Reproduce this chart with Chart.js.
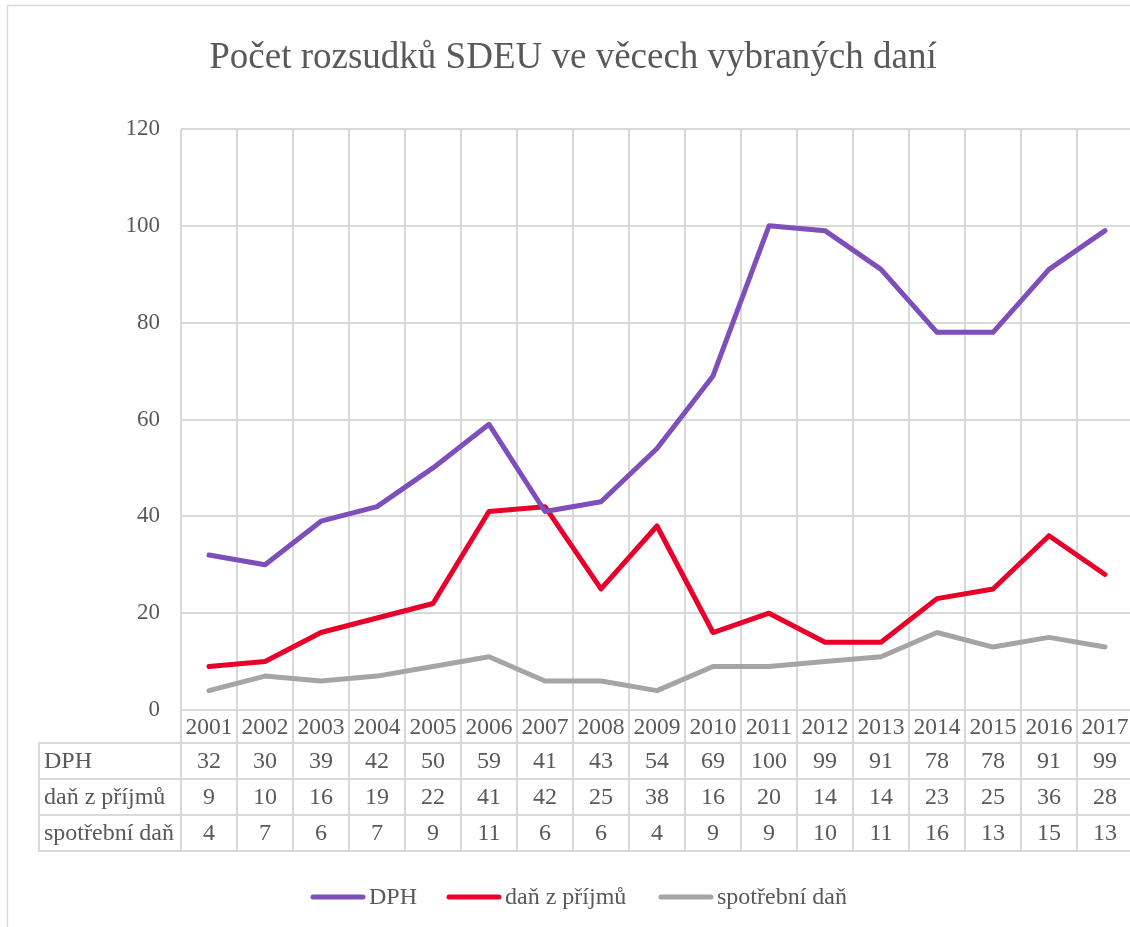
<!DOCTYPE html>
<html>
<head>
<meta charset="utf-8">
<script src="https://cdn.jsdelivr.net/npm/chart.js@4"></script>
<style>
html, body { margin: 0; padding: 0; background: #fff; overflow: hidden; }
#wrap { position: relative; width: 1140px; height: 927px; }
</style>
</head>
<body>
<div id="wrap"><canvas id="chart" width="1140" height="927"></canvas></div>
<script>
// Data
const years = ['2001', '2002', '2003', '2004', '2005', '2006', '2007', '2008', '2009', '2010', '2011', '2012', '2013', '2014', '2015', '2016', '2017'];
const dph = [32, 30, 39, 42, 50, 59, 41, 43, 54, 69, 100, 99, 91, 78, 78, 91, 99];
const danPrijmu = [9, 10, 16, 19, 22, 41, 42, 25, 38, 16, 20, 14, 14, 23, 25, 36, 28];
const spotrebniDan = [4, 7, 6, 7, 9, 11, 6, 6, 4, 9, 9, 10, 11, 16, 13, 15, 13];
const seriesNames = ['DPH', 'daň z příjmů', 'spotřební daň'];
const seriesColors = ['#7E4EBA', '#E8002B', '#A5A5A5'];
const chartTitle = 'Počet rozsudků SDEU ve věcech vybraných daní';

const FONT = '"Liberation Serif", "Times New Roman", serif';
const TEXT = '#595959';
const GRID = '#D9D9D9';

// Title, data table, legend and outer frame drawn around the plot
const decorPlugin = {
    id: 'decor',
    afterDraw(chart) {
        const ctx = chart.ctx;
        const area = chart.chartArea;
        const xs = chart.scales.x;
        const n = years.length;
        const cw = (area.right - area.left) / n;
        const rowY = [area.bottom, area.bottom + 33, area.bottom + 69, area.bottom + 105, area.bottom + 141];
        const tableLeft = 39;
        const tableData = [dph, danPrijmu, spotrebniDan];

        ctx.save();

        // outer frame
        ctx.strokeStyle = GRID;
        ctx.lineWidth = 1.5;
        ctx.strokeRect(7.5, 5.5, 1200, 1000);

        // title
        ctx.fillStyle = TEXT;
        ctx.font = '37px ' + FONT;
        ctx.textAlign = 'center';
        ctx.textBaseline = 'middle';
        ctx.fillText(chartTitle, 573, 58);

        // table lines
        ctx.strokeStyle = GRID;
        ctx.lineWidth = 2;
        ctx.beginPath();
        for (let i = 0; i <= n; i++) {
            const x = area.left + i * cw;
            ctx.moveTo(x, rowY[0]);
            ctx.lineTo(x, rowY[4]);
        }
        ctx.moveTo(tableLeft, rowY[1]);
        ctx.lineTo(tableLeft, rowY[4]);
        for (let r = 1; r < rowY.length; r++) {
            ctx.moveTo(tableLeft - 1, rowY[r]);
            ctx.lineTo(area.right, rowY[r]);
        }
        ctx.stroke();

        // header row (years)
        ctx.fillStyle = TEXT;
        ctx.font = '23.5px ' + FONT;
        ctx.textAlign = 'center';
        ctx.textBaseline = 'middle';
        years.forEach((y, i) => {
            ctx.fillText(y, xs.getPixelForValue(i), (rowY[0] + rowY[1]) / 2 + 1);
        });

        // series rows
        ctx.font = '24px ' + FONT;
        tableData.forEach((vals, r) => {
            const cy = (rowY[r + 1] + rowY[r + 2]) / 2 + 1;
            ctx.textAlign = 'left';
            ctx.fillText(seriesNames[r], tableLeft + 5, cy);
            ctx.textAlign = 'center';
            vals.forEach((v, i) => ctx.fillText(String(v), xs.getPixelForValue(i), cy));
        });

        // legend
        const legendY = 897;
        const legendX = [311, 447, 659];
        const lineLen = 54;
        ctx.lineCap = 'round';
        ctx.lineWidth = 5;
        seriesNames.forEach((name, i) => {
            ctx.strokeStyle = seriesColors[i];
            ctx.beginPath();
            ctx.moveTo(legendX[i] + 2, legendY);
            ctx.lineTo(legendX[i] + lineLen - 2, legendY);
            ctx.stroke();
            ctx.fillStyle = TEXT;
            ctx.textAlign = 'left';
            ctx.fillText(name, legendX[i] + lineLen + 4, legendY + 1);
        });

        ctx.restore();
    }
};

const datasets = [dph, danPrijmu, spotrebniDan].map((vals, i) => ({
    label: seriesNames[i],
    data: vals,
    borderColor: seriesColors[i],
    backgroundColor: seriesColors[i],
    borderWidth: 5,
    pointRadius: 0,
    tension: 0,
    borderJoinStyle: 'round',
    borderCapStyle: 'round',
    fill: false,
    order: i
}));

new Chart(document.getElementById('chart').getContext('2d'), {
    type: 'line',
    data: { labels: years, datasets: datasets },
    plugins: [decorPlugin],
    options: {
        responsive: false,
        animation: false,
        layout: { padding: { top: 129, bottom: 217, left: 0, right: 7 } },
        scales: {
            x: {
                offset: true,
                grid: { offset: true, color: GRID, lineWidth: 2, drawTicks: false },
                border: { display: false },
                ticks: { display: false }
            },
            y: {
                min: 0,
                max: 120,
                ticks: { stepSize: 20, color: TEXT, padding: 21, font: { family: FONT, size: 23 } },
                grid: { color: GRID, lineWidth: 2, drawTicks: false },
                border: { display: false },
                afterFit(scale) { scale.width = 181; }
            }
        },
        plugins: {
            legend: { display: false },
            title: { display: false },
            tooltip: { enabled: false }
        }
    }
});
</script>
</body>
</html>
